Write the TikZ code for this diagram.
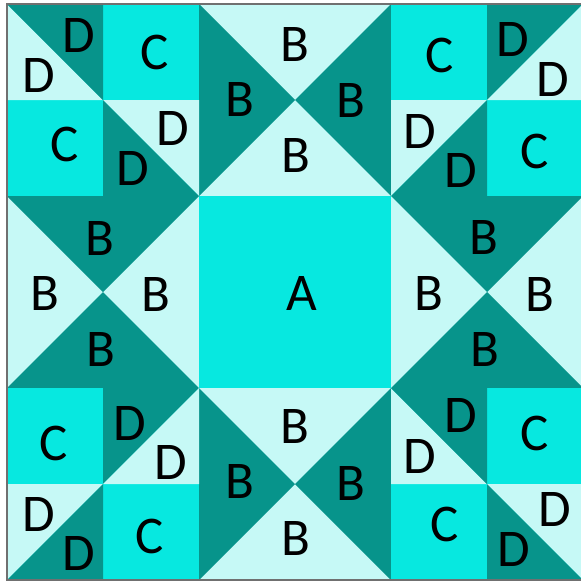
\documentclass[tikz,border=0pt]{standalone}
\usepackage{fontspec}
\setmainfont{Carlito}
\usepackage{xcolor}
\usepackage{tikz}
\definecolor{quiltdark}{RGB}{7,148,139}
\definecolor{quiltmid}{RGB}{7,232,224}
\definecolor{quiltlight}{RGB}{198,249,246}
\definecolor{quiltframe}{RGB}{112,112,112}
\tikzset{
  darkpiece/.style={fill=quiltdark},
  midpiece/.style={fill=quiltmid},
  lightpiece/.style={fill=quiltlight},
  patch/.style={inner sep=0pt, text=black, font=\fontsize{53}{63}\selectfont},
}

\begin{document}
\begin{tikzpicture}[x=1pt, y=-1pt] %%%{{{
	 \useasboundingbox (0,0) rectangle (581,581);
	 % centre square
	 \fill[midpiece] (199,196) rectangle (391,388);
	 % top and bottom hourglass blocks
	 \foreach \x/\y in {199/4, 199/388} {
	   \fill[lightpiece] (\x,\y) rectangle ++(192,192);
	   \fill[darkpiece] (\x,\y) -- ++(96,96) -- ++(-96,96) -- cycle;
	   \fill[darkpiece] (\x+192,\y) -- ++(-96,96) -- ++(96,96) -- cycle;
	 }
	 % left and right hourglass blocks
	 \foreach \x/\y in {7/196, 391/196} {
	   \fill[lightpiece] (\x,\y) rectangle ++(192,192);
	   \fill[darkpiece] (\x,\y) -- ++(96,96) -- ++(96,-96) -- cycle;
	   \fill[darkpiece] (\x,\y+192) -- ++(96,-96) -- ++(96,96) -- cycle;
	 }
	 % corner blocks, diagonals falling
	 \foreach \x/\y in {7/4, 391/388} {
	   \fill[midpiece] (\x,\y) rectangle ++(192,192);
	   \fill[lightpiece] (\x,\y) -- ++(0,96) -- ++(96,0) -- cycle;
	   \fill[darkpiece] (\x,\y) -- ++(96,0) -- ++(0,96) -- cycle;
	   \fill[lightpiece] (\x+96,\y+96) -- ++(96,0) -- ++(0,96) -- cycle;
	   \fill[darkpiece] (\x+96,\y+96) -- ++(0,96) -- ++(96,0) -- cycle;
	 }
	 % corner blocks, diagonals rising
	 \foreach \x/\y in {391/4, 7/388} {
	   \fill[midpiece] (\x,\y) rectangle ++(192,192);
	   \fill[darkpiece] (\x+96,\y) -- ++(96,0) -- ++(-96,96) -- cycle;
	   \fill[lightpiece] (\x+192,\y) -- ++(0,96) -- ++(-96,0) -- cycle;
	   \fill[lightpiece] (\x,\y+96) -- ++(96,0) -- ++(-96,96) -- cycle;
	   \fill[darkpiece] (\x+96,\y+96) -- ++(0,96) -- ++(-96,0) -- cycle;
	 }
	 \draw[quiltframe, line width=1.5pt] (7,4) rectangle (583,580);
	 % letters
	 \foreach \x/\y/\t [count=\i] in {
	   78.5/35/D, 39/75.5/D, 155/52.5/C, 64.5/144/C, 173/128/D, 132.5/168.5/D,
	   439.5/55.5/C, 512.5/39.5/D, 553/79.5/D, 420/131.5/D, 461/170.5/D, 535/151.5/C,
	   53.5/443/C, 130/423.5/D, 171/462/D, 38.5/514/D, 79/553.5/D, 149.5/536.5/C,
	   461/415/D, 420/456/D, 535/433.5/C, 445/524.5/C, 555/509/D, 514/549.5/D,
	   295/44/B, 239.5/99/B, 351/100/B, 296/155.5/B,
	   100/238/B, 44.5/293/B, 156/294/B, 100.5/349/B,
	   483.5/237/B, 428.5/293/B, 540/294.5/B, 484.5/349/B,
	   295/426/B, 239.5/481/B, 351/483/B, 296/538.5/B}
	   \node[patch] (p\i) at (\x,\y) {\t};
	 \node[patch] (a) at (302,293.7) {A};
      \end{tikzpicture}
\end{document}
